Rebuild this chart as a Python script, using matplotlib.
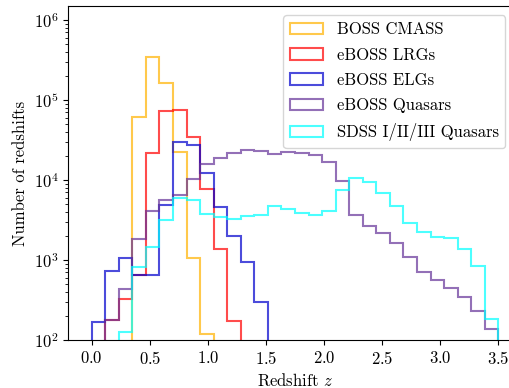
import numpy as np
import matplotlib
matplotlib.use('Agg')
from matplotlib import pyplot as plt

plt.rcParams['font.family'] = 'serif'
plt.rcParams['font.serif'] = ['cmr10', 'DejaVu Serif']
plt.rcParams['mathtext.fontset'] = 'cm'
plt.rcParams['axes.formatter.use_mathtext'] = True
plt.rcParams['font.size'] = 12

# 30 redshift bins from 0 to 3.5
edges = np.linspace(0.0, 3.5, 31)

labels = ['BOSS CMASS', 'eBOSS LRGs', 'eBOSS ELGs', 'eBOSS Quasars',
          'SDSS I/II/III Quasars']
colors = ['#ffb300', 'red', 'mediumblue', 'rebeccapurple', 'cyan']

boss_cmass = [0, 0, 0, 6.1e4, 3.42e5, 1.62e5, 2.26e4, 1060, 119, 0,
              0, 0, 0, 0, 0, 0, 0, 0, 0, 0,
              0, 0, 0, 0, 0, 0, 0, 0, 0, 0]
eboss_lrg = [0, 180, 330, 645, 2.19e4, 7.3e4, 7.5e4, 3.48e4, 7650, 1360,
             174, 0, 0, 0, 0, 0, 0, 0, 0, 0,
             0, 0, 0, 0, 0, 0, 0, 0, 0, 0]
eboss_elg = [166, 729, 1050, 645, 645, 4870, 3.0e4, 2.74e4, 1.21e4, 4600,
             2010, 935, 301, 0, 0, 0, 0, 0, 0, 0,
             0, 0, 0, 0, 0, 0, 0, 0, 0, 0]
eboss_qso = [0, 180, 440, 1850, 4150, 5620, 6550, 1.04e4, 1.58e4, 1.91e4,
             2.19e4, 2.37e4, 2.3e4, 2.12e4, 2.22e4, 2.15e4, 2.04e4, 1.69e4, 9800, 3650,
             2680, 2190, 1640, 1100, 714, 562, 443, 341, 232, 136]
sdss_qso = [0, 0, 125, 825, 1440, 3160, 5900, 5650, 3800, 3450,
            3300, 3500, 3700, 4700, 4300, 3900, 3650, 4130, 7500, 1.07e4,
            9530, 6940, 4730, 2870, 2260, 1960, 1880, 1380, 840, 182]

counts = [boss_cmass, eboss_lrg, eboss_elg, eboss_qso, sdss_qso]

fig = plt.figure(figsize=(5.1, 3.88), dpi=100)
ax = fig.add_axes([68.5 / 510, 48 / 388, 453 / 510, 334 / 388])

centers = 0.5 * (edges[:-1] + edges[1:])
for c, lab, col in zip(counts, labels, colors):
    ax.hist(centers, bins=edges, weights=c, histtype='step', log=True,
            color=col, alpha=0.7, linewidth=1.5, label=lab)

ax.set_xlim(-0.2, 3.7)
ax.set_ylim(100, 10 ** 6.175)
ax.set_xticks(np.arange(0, 3.51, 0.5))
ax.set_xlabel('Redshift $z$')
ax.set_ylabel('Number of redshifts')
ax.legend(loc='upper right', fontsize=12, labelspacing=0.6,
          bbox_to_anchor=(0.983, 0.997))

fig.savefig('out.png', dpi=100)
